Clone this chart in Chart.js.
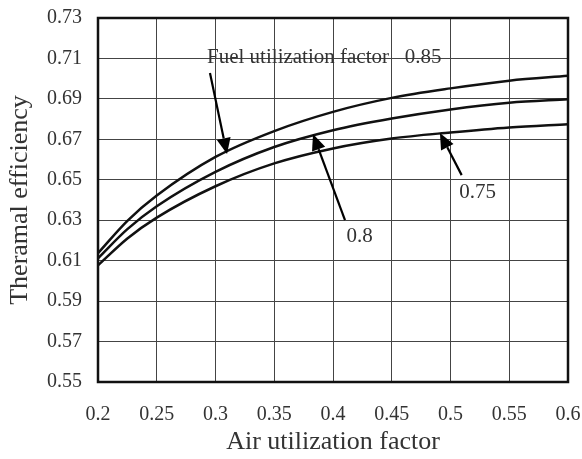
<!DOCTYPE html>
<html>
<head>
<meta charset="utf-8">
<script src="https://cdn.jsdelivr.net/npm/chart.js@4.4.0/dist/chart.umd.min.js"></script>
<style>
  body { margin: 0; background: #fff; }
  canvas { display: block; }
</style>
</head>
<body>
<canvas id="grafico" width="582" height="459"></canvas>
<script>
// valores
const fatorAr = [0.2, 0.225, 0.25, 0.3, 0.35, 0.4, 0.45, 0.5, 0.55, 0.6];
const fuel085 = [0.6137, 0.6297, 0.6422, 0.6613, 0.6741, 0.6836, 0.6905, 0.6952, 0.6990, 0.7014];
const fuel080 = [0.6112, 0.6256, 0.6369, 0.6539, 0.6662, 0.6745, 0.6803, 0.6848, 0.6881, 0.6898];
const fuel075 = [0.6077, 0.6210, 0.6313, 0.6468, 0.6581, 0.6655, 0.6704, 0.6734, 0.6759, 0.6775];

const xTicks = [0.2, 0.25, 0.3, 0.35, 0.4, 0.45, 0.5, 0.55, 0.6];
const yTicks = [0.55, 0.57, 0.59, 0.61, 0.63, 0.65, 0.67, 0.69, 0.71, 0.73];

// anotações (coordenadas nos eixos do gráfico)
const textos = [
  { txt: 'Fuel utilization factor   0.85', x: 0.2928, y: 0.7107, align: 'left' },
  { txt: '0.8', x: 0.4227, y: 0.6221, align: 'center' },
  { txt: '0.75', x: 0.523, y: 0.6436, align: 'center' }
];
const setas = [
  { de: [0.2953, 0.7028], para: [0.3098, 0.6627] },
  { de: [0.4102, 0.6300], para: [0.3830, 0.6726] },
  { de: [0.5095, 0.6523], para: [0.4910, 0.6731] }
];

const fonte = 'Liberation Serif, Times New Roman, serif';

function pontos(ys) {
  return fatorAr.map((x, i) => ({ x: x, y: ys[i] }));
}

function serie(nome, ys) {
  return {
    label: nome,
    data: pontos(ys),
    borderColor: '#111',
    borderWidth: 2.5,
    pointRadius: 0,
    fill: false,
    cubicInterpolationMode: 'monotone'
  };
}

const anotacoes = {
  id: 'anotacoes',
  afterDatasetsDraw(chart) {
    const c = chart.ctx;
    const sx = chart.scales.x, sy = chart.scales.y;
    const a = chart.chartArea;
    c.save();
    // moldura grossa
    c.strokeStyle = '#111';
    c.lineWidth = 2.5;
    c.strokeRect(a.left, a.top, a.right - a.left, a.bottom - a.top);

    c.fillStyle = '#333';
    c.font = '21px ' + fonte;
    c.textBaseline = 'middle';
    textos.forEach(t => {
      c.textAlign = t.align;
      c.fillText(t.txt, sx.getPixelForValue(t.x), sy.getPixelForValue(t.y));
    });

    c.strokeStyle = '#000';
    c.fillStyle = '#000';
    c.lineWidth = 2.2;
    setas.forEach(s => {
      const x1 = sx.getPixelForValue(s.de[0]), y1 = sy.getPixelForValue(s.de[1]);
      const x2 = sx.getPixelForValue(s.para[0]), y2 = sy.getPixelForValue(s.para[1]);
      const ang = Math.atan2(y2 - y1, x2 - x1);
      const L = 16, W = 7;
      const bx = x2 - L * Math.cos(ang), by = y2 - L * Math.sin(ang);
      c.beginPath();
      c.moveTo(x1, y1);
      c.lineTo(bx, by);
      c.stroke();
      c.beginPath();
      c.moveTo(x2, y2);
      c.lineTo(bx + W * Math.sin(ang), by - W * Math.cos(ang));
      c.lineTo(bx - W * Math.sin(ang), by + W * Math.cos(ang));
      c.closePath();
      c.fill();
    });
    c.restore();
  }
};

new Chart(document.getElementById('grafico'), {
  type: 'line',
  data: {
    datasets: [
      serie('0.85', fuel085),
      serie('0.8', fuel080),
      serie('0.75', fuel075)
    ]
  },
  options: {
    responsive: false,
    animation: false,
    layout: { padding: { top: 18, right: 14, left: 0, bottom: 0 } },
    plugins: {
      legend: { display: false },
      tooltip: { enabled: false }
    },
    scales: {
      x: {
        type: 'linear',
        min: 0.2,
        max: 0.6,
        afterBuildTicks: s => { s.ticks = xTicks.map(v => ({ value: v })); },
        afterFit: s => { s.height = 77; s.paddingLeft = 0; s.paddingRight = 0; },
        grid: { color: '#444', lineWidth: 1, drawTicks: false },
        border: { display: false },
        ticks: {
          color: '#333',
          padding: 21,
          maxRotation: 0,
          font: { family: fonte, size: 20 },
          callback: v => String(+v.toFixed(2))
        },
        title: {
          display: true,
          text: 'Air utilization factor',
          color: '#333',
          font: { family: fonte, size: 26 },
          padding: { top: 0, bottom: 1 }
        }
      },
      y: {
        min: 0.55,
        max: 0.73,
        afterBuildTicks: s => { s.ticks = yTicks.map(v => ({ value: v })); },
        afterFit: s => { s.width = 98; s.paddingTop = 0; s.paddingBottom = 0; },
        grid: { color: '#444', lineWidth: 1, drawTicks: false },
        border: { display: false },
        ticks: {
          color: '#333',
          padding: 16,
          font: { family: fonte, size: 20 },
          callback: v => v.toFixed(2)
        },
        title: {
          display: true,
          text: 'Theramal efficiency',
          color: '#333',
          font: { family: fonte, size: 26 },
          padding: { top: 5, bottom: 0 }
        }
      }
    }
  },
  plugins: [anotacoes]
});
</script>
</body>
</html>
